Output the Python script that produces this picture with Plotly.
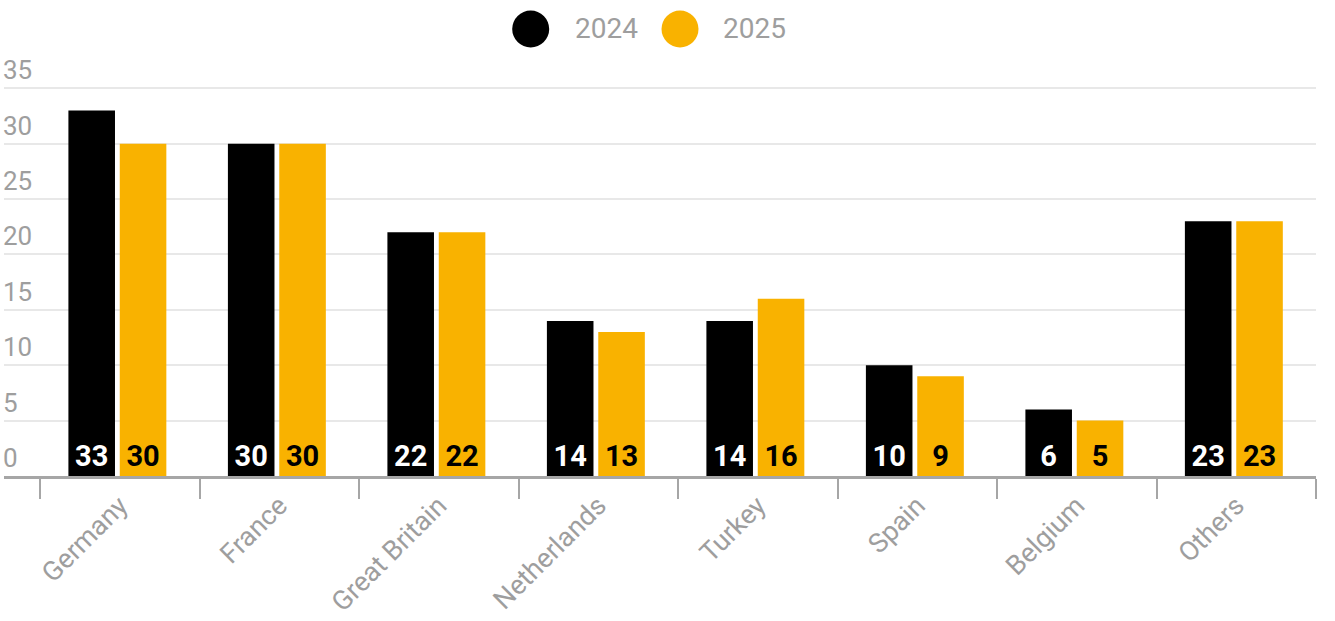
import plotly.graph_objects as go

categories = ["Germany", "France", "Great Britain", "Netherlands", "Turkey", "Spain", "Belgium", "Others"]
series_names = ["2024", "2025"]
values_2024 = [33, 30, 22, 14, 14, 10, 6, 23]
values_2025 = [30, 30, 22, 13, 16, 9, 5, 23]
y_ticks = [0, 5, 10, 15, 20, 25, 30, 35]

BLACK = "#000000"
YELLOW = "#F9B200"
GREY = "#9E9E9E"
FONT = "Roboto"

W, H = 1335, 621
Y_MAX = 39
ML, MR, MB = 4, 19, 145
MT = round(476 - Y_MAX * (476 - 88) / 35)

fig = go.Figure()
for name, vals, col, tcol, off in [(series_names[0], values_2024, BLACK, "#FFFFFF", -0.322),
                                   (series_names[1], values_2025, YELLOW, "#000000", 0.0)]:
    fig.add_trace(go.Bar(
        x=categories, y=vals, name=name,
        marker=dict(color=col, line=dict(width=0)),
        width=0.292, offset=off,
        text=[str(v) for v in vals],
        textposition="inside", insidetextanchor="start",
        textangle=0, constraintext="none",
        textfont=dict(family=FONT, size=29, color=tcol, weight="bold"),
        showlegend=False, hoverinfo="x+y+name",
    ))

# custom legend (large circles)
plot_w = W - ML - MR
plot_h = H - MT - MB
def px_x(p):
    return (p - ML) / plot_w
def px_y(p):
    return (H - MB - p) / plot_h

legend_items = [(series_names[0], BLACK, 530.7, 572.5), (series_names[1], YELLOW, 680.0, 720.5)]
shapes = []
annotations = []
for name, col, cx, tx in legend_items:
    shapes.append(dict(type="circle", xref="paper", yref="paper",
                       xsizemode="pixel", ysizemode="pixel",
                       xanchor=px_x(cx), yanchor=px_y(29),
                       x0=-18.5, x1=18.5, y0=-18.5, y1=18.5,
                       fillcolor=col, line=dict(width=0)))
    annotations.append(dict(text=name, xref="paper", yref="paper",
                            x=px_x(tx), y=px_y(29), xanchor="left", yanchor="middle",
                            showarrow=False, font=dict(family=FONT, size=28, color=GREY)))

n = len(categories)
fig.update_layout(
    width=W, height=H,
    margin=dict(l=ML, r=MR, t=MT, b=MB, pad=0),
    paper_bgcolor="white", plot_bgcolor="white",
    barmode="group",
    font=dict(family=FONT, color=GREY),
    shapes=shapes, annotations=annotations,
    xaxis=dict(
        type="category", range=[-0.5 - 36 / 159.4, n - 0.5],
        tickson="boundaries", ticks="outside", ticklen=20, tickwidth=2, tickcolor="#A6A6A6",
        showline=True, linecolor="#A6A6A6", linewidth=3,
        tickangle=-45, tickfont=dict(family=FONT, size=27, color=GREY),
        showgrid=False, zeroline=False, fixedrange=True,
    ),
    yaxis=dict(
        range=[0, Y_MAX], tickvals=y_ticks, ticktext=[str(t) for t in y_ticks],
        ticklabelposition="inside top", ticklabelstandoff=-4,
        tickfont=dict(family=FONT, size=26, color=GREY),
        showgrid=True, gridcolor="#E8E8E8", gridwidth=2,
        zeroline=False, showline=False, ticks="", fixedrange=True,
    ),
)

fig.write_html("out.html", config={"displayModeBar": False},
               post_script="document.body.style.margin='0';")
